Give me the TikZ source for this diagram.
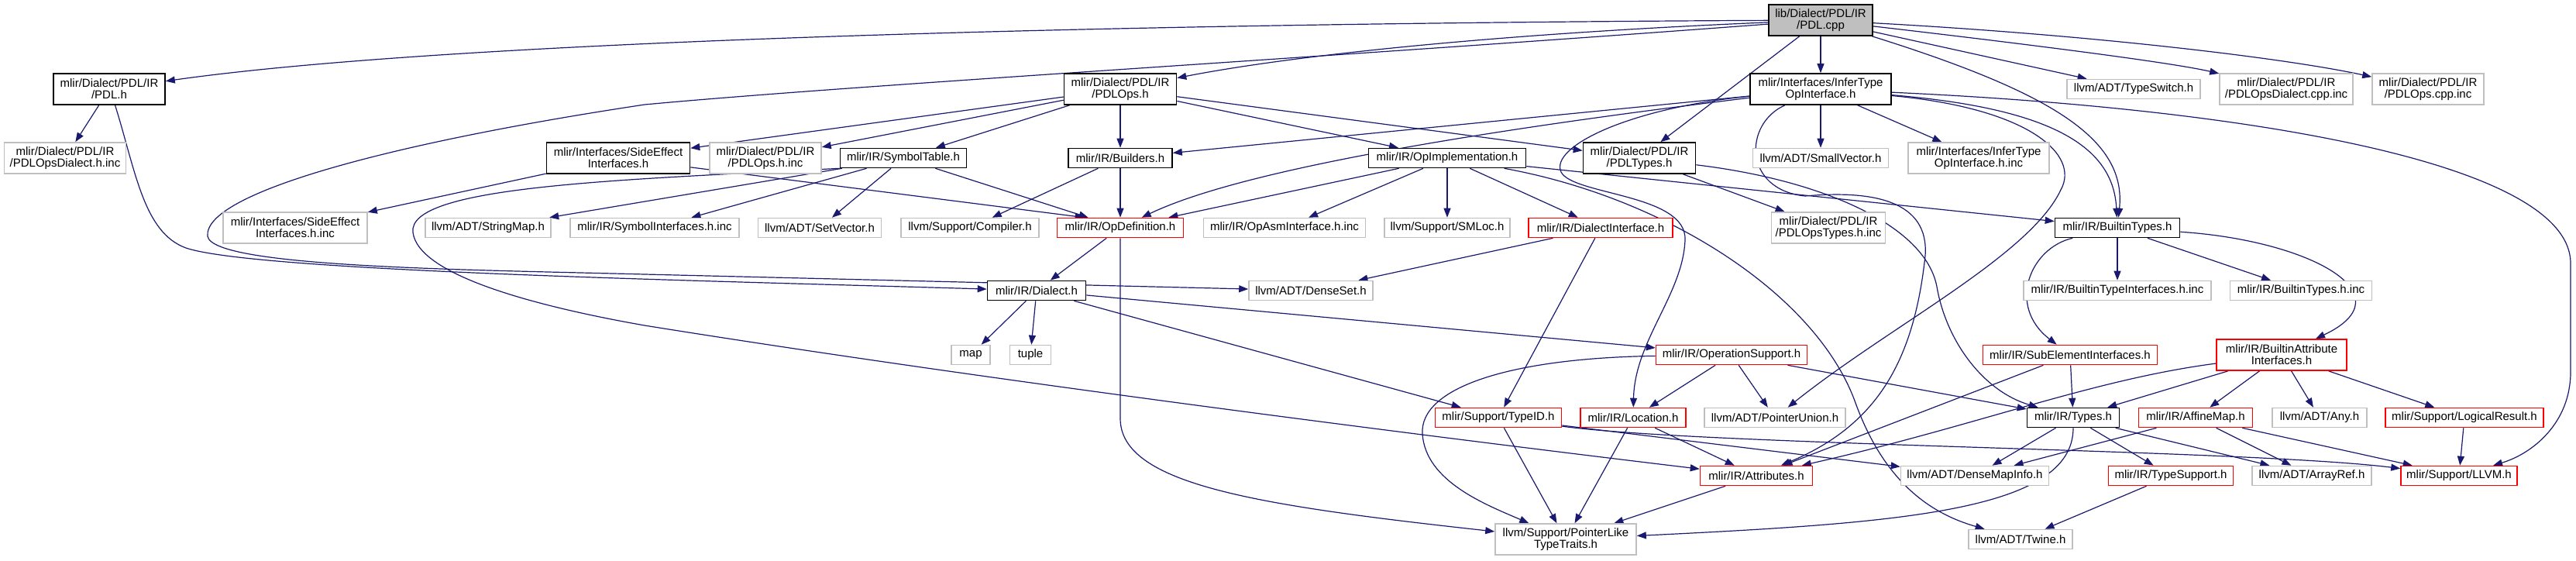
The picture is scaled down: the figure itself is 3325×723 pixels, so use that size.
\documentclass[tikz,border=0pt]{standalone}
\usepackage{fontspec}
\setmainfont{Liberation Sans}
\usetikzlibrary{arrows.meta, backgrounds}
\definecolor{edgeblue}{HTML}{191970}
\definecolor{extgray}{HTML}{BFBFBF}

\begin{document}
\begin{tikzpicture}[x=0.5pt, y=-0.5pt,
    file/.style={rectangle, draw=black, fill=white, line width=0.8pt, inner sep=0pt,
      minimum height=12.5pt, align=center, font=\fontsize{7.5}{7.5}\selectfont},
    twoline/.style={minimum height=20pt},
    extfile/.style={file, draw=extgray},
    truncfile/.style={file, draw=red},
    rootfile/.style={file, fill=extgray},
    dep/.style={-{Triangle[length=6pt,width=4.5pt]}, line width=0.6pt, draw=edgeblue},
  ]
  \useasboundingbox (0,0) rectangle (3325,723);

  % Row 0 and 1
  \node[rootfile, twoline, minimum width=67pt] (pdlcpp) at (2350,26) {lib/Dialect/PDL/IR\\/PDL.cpp};
  \node[file, twoline, minimum width=72pt] (pdlh) at (141,115) {mlir/Dialect/PDL/IR\\/PDL.h};
  \node[file, twoline, minimum width=72.5pt] (pdlops) at (1446,115) {mlir/Dialect/PDL/IR\\/PDLOps.h};
  \node[file, twoline, minimum width=91pt] (infer) at (2350,115) {mlir/Interfaces/InferType\\OpInterface.h};
  \node[extfile, minimum width=86pt] (typeswitch) at (2754,115) {llvm/ADT/TypeSwitch.h};
  \node[extfile, twoline, minimum width=86pt] (dialectcppinc) at (2951,115) {mlir/Dialect/PDL/IR\\/PDLOpsDialect.cpp.inc};
  \node[extfile, twoline, minimum width=72pt] (opscppinc) at (3134,115) {mlir/Dialect/PDL/IR\\/PDLOps.cpp.inc};

  % Row 2
  \node[extfile, twoline, minimum width=78.5pt] (opsdialectinc) at (84,204) {mlir/Dialect/PDL/IR\\/PDLOpsDialect.h.inc};
  \node[file, twoline, minimum width=92.5pt] (sideeffect) at (798,204) {mlir/Interfaces/SideEffect\\Interfaces.h};
  \node[extfile, twoline, minimum width=72pt] (opsinc) at (988,204) {mlir/Dialect/PDL/IR\\/PDLOps.h.inc};
  \node[file, minimum width=81.5pt] (symtab) at (1166,204) {mlir/IR/SymbolTable.h};
  \node[file, minimum width=67pt] (builders) at (1446,204) {mlir/IR/Builders.h};
  \node[file, minimum width=101.5pt] (opimpl) at (1868,204) {mlir/IR/OpImplementation.h};
  \node[file, twoline, minimum width=72.5pt] (pdltypes) at (2116,204) {mlir/Dialect/PDL/IR\\/PDLTypes.h};
  \node[extfile, minimum width=87.5pt] (smallvector) at (2350,204) {llvm/ADT/SmallVector.h};
  \node[extfile, twoline, minimum width=91pt] (infertypeinc) at (2554,204) {mlir/Interfaces/InferType\\OpInterface.h.inc};

  % Row 3
  \node[extfile, twoline, minimum width=93pt] (sideeffectinc) at (381,294) {mlir/Interfaces/SideEffect\\Interfaces.h.inc};
  \node[extfile, minimum width=81pt] (stringmap) at (630,294) {llvm/ADT/StringMap.h};
  \node[extfile, minimum width=109pt] (syminc) at (845,294) {mlir/IR/SymbolInterfaces.h.inc};
  \node[extfile, minimum width=79.5pt] (setvector) at (1058,294) {llvm/ADT/SetVector.h};
  \node[extfile, minimum width=89pt] (compiler) at (1252,294) {llvm/Support/Compiler.h};
  \node[truncfile, minimum width=81.5pt] (opdef) at (1446,294) {mlir/IR/OpDefinition.h};
  \node[extfile, minimum width=104.5pt] (opasminc) at (1658,294) {mlir/IR/OpAsmInterface.h.inc};
  \node[extfile, minimum width=81pt] (smloc) at (1868,294) {llvm/Support/SMLoc.h};
  \node[truncfile, minimum width=93pt] (dialectiface) at (2066,294) {mlir/IR/DialectInterface.h};
  \node[extfile, twoline, minimum width=73.5pt] (opstypesinc) at (2360,294) {mlir/Dialect/PDL/IR\\/PDLOpsTypes.h.inc};
  \node[file, minimum width=80.5pt] (builtintypes) at (2733,294) {mlir/IR/BuiltinTypes.h};

  % Row 4 and 5
  \node[file, minimum width=63.5pt] (dialect) at (1338,375) {mlir/IR/Dialect.h};
  \node[extfile, minimum width=80pt] (denseset) at (1692,375) {llvm/ADT/DenseSet.h};
  \node[extfile, minimum width=121pt] (btifaceinc) at (2733,375) {mlir/IR/BuiltinTypeInterfaces.h.inc};
  \node[extfile, minimum width=91.5pt] (btinc) at (2970,375) {mlir/IR/BuiltinTypes.h.inc};
  \node[extfile, minimum width=25pt] (map) at (1253,458) {map};
  \node[extfile, minimum width=26.5pt] (tuple) at (1330,458) {tuple};
  \node[truncfile, minimum width=97.5pt] (opsupport) at (2235,458) {mlir/IR/OperationSupport.h};
  \node[truncfile, minimum width=112.5pt] (subelem) at (2672,458) {mlir/IR/SubElementInterfaces.h};
  \node[truncfile, twoline, minimum width=84pt] (battrifaces) at (2945,458) {mlir/IR/BuiltinAttribute\\Interfaces.h};

  % Row 6
  \node[truncfile, minimum width=81.5pt] (typeid) at (1934,539) {mlir/Support/TypeID.h};
  \node[truncfile, minimum width=68pt] (location) at (2108,539) {mlir/IR/Location.h};
  \node[extfile, minimum width=91pt] (pointerunion) at (2291,539) {llvm/ADT/PointerUnion.h};
  \node[file, minimum width=59.5pt] (types) at (2676,539) {mlir/IR/Types.h};
  \node[truncfile, minimum width=73.5pt] (affinemap) at (2834,539) {mlir/IR/AffineMap.h};
  \node[extfile, minimum width=61pt] (any) at (2994,539) {llvm/ADT/Any.h};
  \node[truncfile, minimum width=102pt] (logicalresult) at (3181,539) {mlir/Support/LogicalResult.h};

  % Row 7 and 8
  \node[truncfile, minimum width=72.5pt] (attrs) at (2267,614) {mlir/IR/Attributes.h};
  \node[extfile, minimum width=95.5pt] (densemapinfo) at (2549,614) {llvm/ADT/DenseMapInfo.h};
  \node[truncfile, minimum width=80.5pt] (typesupport) at (2802,614) {mlir/IR/TypeSupport.h};
  \node[extfile, minimum width=77pt] (arrayref) at (2984,614) {llvm/ADT/ArrayRef.h};
  \node[truncfile, minimum width=75pt] (llvm) at (3174,614) {mlir/Support/LLVM.h};
  \node[extfile, twoline, minimum width=91pt] (ptrlike) at (2021,696) {llvm/Support/PointerLike\\TypeTraits.h};
  \node[extfile, minimum width=67pt] (twine) at (2608,696) {llvm/ADT/Twine.h};

  \begin{scope}[on background layer]
    % PDL.cpp
    \draw[dep] (pdlcpp) .. controls (1500,30) and (600,50) .. (pdlh);
    \draw[dep] (pdlcpp) .. controls (1900,45) and (1650,75) .. (pdlops);
    \draw[dep] (pdlcpp) .. controls (1700,75) and (1100,110) .. (832,135)
      .. controls (500,185) and (262,250) .. (268,305)
      .. controls (275,345) and (600,348) .. (832,354) -- (denseset);
    \draw[dep] (pdlcpp) -- (infer);
    \draw[dep] (pdlcpp) -- (pdltypes);
    \draw[dep] (pdlcpp) .. controls (2650,120) and (2745,180) .. (builtintypes);
    \draw[dep] (pdlcpp) -- (typeswitch);
    \draw[dep] (pdlcpp) .. controls (2600,55) and (2800,80) .. (dialectcppinc);
    \draw[dep] (pdlcpp) .. controls (2700,45) and (2950,75) .. (opscppinc);

    % PDL.h and PDLOps.h
    \draw[dep] (pdlh) -- (opsdialectinc);
    \draw[dep] (pdlh.-70) .. controls (175,220) and (185,300) .. (240,320)
      .. controls (330,350) and (900,362) .. (dialect);
    \draw[dep] (pdlops) -- (sideeffect);
    \draw[dep] (pdlops) -- (opsinc);
    \draw[dep] (pdlops) -- (symtab);
    \draw[dep] (pdlops) -- (builders);
    \draw[dep] (pdlops) -- (opimpl);
    \draw[dep] (pdlops) -- (pdltypes);

    % row 2 sources
    \draw[dep] (sideeffect) -- (sideeffectinc);
    \draw[dep] (sideeffect) -- (opdef.164);
    \draw[dep] (symtab) -- (stringmap);
    \draw[dep] (symtab) -- (syminc);
    \draw[dep] (symtab) -- (setvector);
    \draw[dep] (symtab) -- (opdef);
    \draw[dep] (symtab.south west) .. controls (800,232) and (525,240) .. (533,300)
      .. controls (540,355) and (690,395) .. (832,420)
      .. controls (1300,495) and (1900,570) .. (attrs);
    \draw[dep] (builders) -- (compiler);
    \draw[dep] (builders) -- (opdef);

    % InferTypeOpInterface.h
    \draw[dep] (infer) -- (builders);
    \draw[dep] (infer) .. controls (1900,170) and (1600,220) .. (opdef);
    \draw[dep] (infer) .. controls (2100,140) and (2000,190) .. (2015,222)
      .. controls (2030,252) and (2178,250) .. (2175,310)
      .. controls (2172,380) and (2110,440) .. (location);
    \draw[dep] (infer) -- (smallvector);
    \draw[dep] (infer) -- (infertypeinc);
    \draw[dep] (infer) .. controls (2650,140) and (2728,190) .. (builtintypes);
    \draw[dep] (infer) .. controls (2900,140) and (3318,210) .. (3318,340) -- (3318,480)
      .. controls (3318,545) and (3270,585) .. (llvm);
    \draw[dep] (infer) .. controls (2620,140) and (2685,200) .. (2660,245)
      .. controls (2620,330) and (2440,420) .. (pointerunion);
    \draw[dep] (infer) .. controls (2250,160) and (2250,245) .. (2330,253)
      .. controls (2420,245) and (2490,260) .. (2485,330)
      .. controls (2470,470) and (2420,550) .. (attrs);

    % OpImplementation.h
    \draw[dep] (opimpl) -- (opdef);
    \draw[dep] (opimpl) -- (opasminc);
    \draw[dep] (opimpl) -- (smloc);
    \draw[dep] (opimpl) -- (dialectiface);
    \draw[dep] (opimpl) -- (builtintypes);
    \draw[dep] (opimpl) .. controls (2150,255) and (2345,380) .. (2395,520)
      .. controls (2435,630) and (2500,665) .. (twine);

    % PDLTypes.h, OpDefinition.h, DialectInterface.h, Dialect.h
    \draw[dep] (pdltypes) -- (opstypesinc);
    \draw[dep] (pdltypes) .. controls (2350,232) and (2485,290) .. (2500,370)
      .. controls (2512,440) and (2560,505) .. (types);
    \draw[dep] (opdef) -- (dialect);
    \draw[dep] (opdef) -- (1446,540) .. controls (1446,625) and (1620,652) .. (ptrlike);
    \draw[dep] (dialectiface) -- (denseset);
    \draw[dep] (dialectiface) -- (typeid);
    \draw[dep] (dialect) -- (map);
    \draw[dep] (dialect) -- (tuple);
    \draw[dep] (dialect) -- (opsupport);
    \draw[dep] (dialect) -- (typeid);

    % BuiltinTypes.h
    \draw[dep] (builtintypes) -- (btifaceinc);
    \draw[dep] (builtintypes) -- (btinc);
    \draw[dep] (builtintypes) .. controls (2620,320) and (2590,395) .. (subelem);
    \draw[dep] (builtintypes) .. controls (2980,310) and (3110,380) .. (battrifaces);

    % OperationSupport.h and the interfaces
    \draw[dep] (opsupport) -- (location);
    \draw[dep] (opsupport) -- (pointerunion);
    \draw[dep] (opsupport) -- (types);
    \draw[dep] (opsupport) .. controls (1950,462) and (1832,500) .. (1836,560)
      .. controls (1840,622) and (1920,652) .. (ptrlike);
    \draw[dep] (subelem) -- (types);
    \draw[dep] (subelem) -- (attrs);
    \draw[dep] (battrifaces) .. controls (2700,490) and (2550,550) .. (attrs);
    \draw[dep] (battrifaces) -- (types);
    \draw[dep] (battrifaces) -- (affinemap);
    \draw[dep] (battrifaces) -- (any);
    \draw[dep] (battrifaces) -- (logicalresult);

    % lower rows
    \draw[dep] (types) -- (densemapinfo);
    \draw[dep] (types) -- (typesupport);
    \draw[dep] (types) -- (arrayref);
    \draw[dep] (types) .. controls (2676,660) and (2450,675) .. (ptrlike);
    \draw[dep] (affinemap) -- (densemapinfo);
    \draw[dep] (affinemap) -- (arrayref);
    \draw[dep] (affinemap) -- (llvm);
    \draw[dep] (logicalresult) -- (llvm);
    \draw[dep] (typesupport) -- (twine);
    \draw[dep] (typeid) -- (ptrlike);
    \draw[dep] (typeid) -- (densemapinfo);
    \draw[dep] (typeid) .. controls (2200,575) and (2900,580) .. (llvm);
    \draw[dep] (location) -- (attrs);
    \draw[dep] (location) -- (ptrlike);
    \draw[dep] (attrs) -- (ptrlike);
  \end{scope}
\end{tikzpicture}
\end{document}
